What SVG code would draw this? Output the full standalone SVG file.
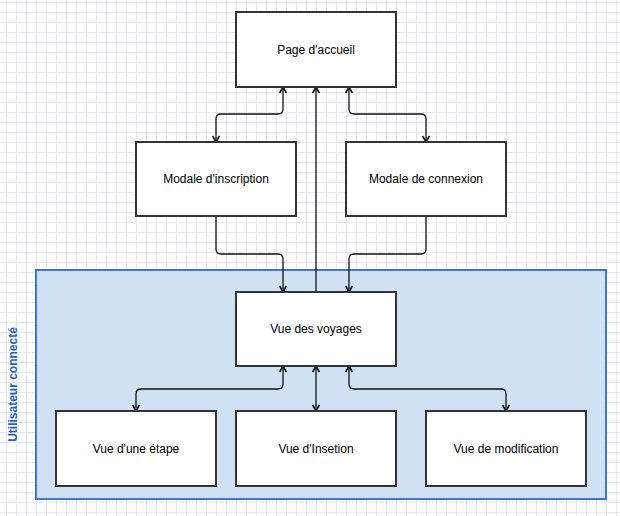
<svg xmlns="http://www.w3.org/2000/svg" width="620" height="516" viewBox="0 0 620 516">
<style>
.box{fill:#ffffff;stroke:#333333;stroke-width:2}
.lbl{font-family:"Liberation Sans",Arial,sans-serif;font-size:12px;fill:#000000;text-anchor:middle;dominant-baseline:central}
.edge{fill:none;stroke:#111111;stroke-width:1.3}
.grp{fill:#cfe1f3;stroke:#3a78d6;stroke-width:2}
.grplbl{font-family:"Liberation Sans",Arial,sans-serif;font-size:12px;font-weight:bold;fill:#1a5fcc;text-anchor:middle;dominant-baseline:central}
</style>
<defs>
<pattern id="grid" x="6" y="2" width="10" height="10" patternUnits="userSpaceOnUse">
<path d="M0.5,0 V10 M0,0.5 H10" fill="none" stroke="#e6e6f8" stroke-width="1"/>
</pattern>
<marker id="arr" viewBox="0 0 8 8" refX="7" refY="4" markerWidth="8" markerHeight="8" markerUnits="userSpaceOnUse" orient="auto-start-reverse">
<path d="M1,0.6 L7,4 L1,7.4" fill="none" stroke="#111111" stroke-width="1.6"/>
</marker>
</defs>
<rect x="0" y="0" width="620" height="516" fill="#ffffff"/>
<rect x="0" y="0" width="620" height="516" fill="url(#grid)"/>

<g id="group-utilisateur">
<rect class="grp" x="36" y="270" width="570" height="229"/>
<text class="grplbl" transform="translate(13,384.5) rotate(-90)">Utilisateur connecté</text>
</g>

<g id="connectors">
<path class="edge" d="M216,142 V119 Q216,114 221,114 H278 Q283,114 283,109 V87" marker-start="url(#arr)" marker-end="url(#arr)"/>
<path class="edge" d="M426,142 V119 Q426,114 421,114 H354 Q349,114 349,109 V87" marker-start="url(#arr)" marker-end="url(#arr)"/>
<path class="edge" d="M316,292 V87" marker-end="url(#arr)" stroke="#555555"/>
<path class="edge" d="M216,216 V249 Q216,254 221,254 H278 Q283,254 283,259 V292" marker-end="url(#arr)"/>
<path class="edge" d="M426,216 V249 Q426,254 421,254 H354 Q349,254 349,259 V292" marker-end="url(#arr)"/>
<path class="edge" d="M283,366 V384 Q283,389 278,389 H141 Q136,389 136,394 V411" marker-start="url(#arr)" marker-end="url(#arr)"/>
<path class="edge" d="M316,366 V411" marker-start="url(#arr)" marker-end="url(#arr)"/>
<path class="edge" d="M349,366 V384 Q349,389 354,389 H501 Q506,389 506,394 V411" marker-start="url(#arr)" marker-end="url(#arr)"/>
</g>

<g id="node-accueil">
<rect class="box" x="236" y="12" width="160" height="75"/>
<text class="lbl" x="316" y="49.5">Page d'accueil</text>
</g>
<g id="node-inscription">
<rect class="box" x="136" y="142" width="160" height="74"/>
<text class="lbl" x="216" y="179">Modale d'inscription</text>
</g>
<g id="node-connexion">
<rect class="box" x="346" y="142" width="160" height="74"/>
<text class="lbl" x="426" y="179">Modale de connexion</text>
</g>
<g id="node-voyages">
<rect class="box" x="236" y="292" width="160" height="74"/>
<text class="lbl" x="316" y="329">Vue des voyages</text>
</g>
<g id="node-etape">
<rect class="box" x="56" y="411" width="160" height="75"/>
<text class="lbl" x="136" y="448.5">Vue d'une étape</text>
</g>
<g id="node-insetion">
<rect class="box" x="236" y="411" width="160" height="75"/>
<text class="lbl" x="316" y="448.5">Vue d'Insetion</text>
</g>
<g id="node-modification">
<rect class="box" x="426" y="411" width="160" height="75"/>
<text class="lbl" x="506" y="448.5">Vue de modification</text>
</g>
</svg>
